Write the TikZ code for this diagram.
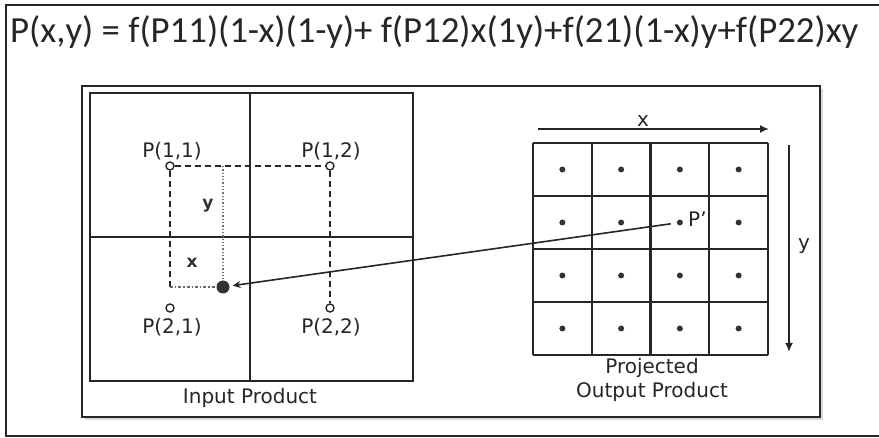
\documentclass[tikz,border=0pt]{standalone}
\usepackage{fontspec}
\setmainfont{DejaVu Sans}
\newfontfamily\formulafont{Carlito}
\usetikzlibrary{shadows, arrows.meta}

\begin{document}
\begin{tikzpicture}[x=1pt, y=-1pt,
    lbl/.style={font=\fontsize{20}{24}\selectfont, inner sep=0pt, text=black!85},
    boldlbl/.style={font=\bfseries\fontsize{17}{19}\selectfont, inner sep=0pt, text=black!80},
    gridline/.style={line width=2.1pt, black!85},
    guide/.style={line width=1.5pt, dash pattern=on 6pt off 4pt, black!85},
    corner/.style={circle, draw=black!85, line width=1.4pt, fill=white, inner sep=0pt, minimum size=8pt},
    cellpt/.style={circle, fill=black!80, inner sep=0pt, minimum size=6pt}]
    \useasboundingbox (0,0) rectangle (879,438);
    \draw[line width=1.5pt, black!85] (885,5) -- (6,5) -- (6,436) -- (885,436);

    \node[anchor=base west, inner sep=0pt, text=black!85, font=\formulafont\fontsize{36.8}{42}\selectfont] (formula) at (10,43) {P(x,y) = f(P11)(1-x)(1-y)+ f(P12)x(1y)+f(21)(1-x)y+f(P22)xy};

    \draw[line width=1.5pt, black!85, fill=white, drop shadow={shadow xshift=3pt, shadow yshift=-3pt, fill=black!30}] (82,86) rectangle (820,417);

    \draw[gridline] (90,93) rectangle (413,381);
    \draw[gridline] (250,93) -- (250,381);
    \draw[gridline] (90,237) -- (413,237);

    \node[corner] (p11) at (170,166) {};
    \node[corner] (p12) at (330,166) {};
    \node[corner] (p21) at (170,308) {};
    \node[corner] (p22) at (330,308) {};
    \node[circle, fill=black!80, minimum size=13pt, inner sep=0pt] (pt) at (223,287) {};
    \coordinate (foot) at (170,287);
    \coordinate (top) at (223,166);
    \draw[guide] (p11) -- (p12);
    \draw[guide] (p12) -- (p22);
    \draw[guide] (p11) -- (foot);
    \draw[line width=1.3pt, black!55, dotted] (top) -- (pt);
    \draw[line width=1.3pt, black!60, dash dot] (foot) -- (pt);

    \node[lbl] (l11) at (172,151) {P(1,1)};
    \node[lbl] (l12) at (331,151) {P(1,2)};
    \node[lbl] (l21) at (172,327) {P(2,1)};
    \node[lbl] (l22) at (331,327) {P(2,2)};
    \node[boldlbl] (ylab) at (208,206) {y};
    \node[boldlbl] (xlab) at (192,263) {x};
    \node[lbl] (inlab) at (250,398) {Input Product};

    \foreach \i in {0,...,4} {
        \draw[gridline] ({533+58.75*\i},143) -- ({533+58.75*\i},355);
        \draw[gridline] (533,{143+53*\i}) -- (768,{143+53*\i});
    }
    \foreach \r in {1,...,4}
        \foreach \c in {1,...,4}
            \node[cellpt] (c\r\c) at ({533+58.75*(\c-0.5)},{143+53*(\r-0.5)}) {};
    \node[lbl, anchor=west] (plab) at (688,219) {P'};

    \coordinate (xs) at (538,129);
    \coordinate (xe) at (769,129);
    \coordinate (ys) at (789,145);
    \coordinate (ye) at (789,352);
    \draw[line width=1.8pt, black!85, -{Latex[length=9pt, width=8pt]}] (xs) -- (xe);
    \draw[line width=1.8pt, black!85, -{Latex[length=9pt, width=8pt]}] (ys) -- (ye);
    \node[lbl] (axx) at (643,121) {x};
    \node[lbl] (axy) at (804,246) {y};

    \draw[line width=1.6pt, black!85, -{Stealth[length=8pt, width=7pt]}, shorten <=6pt, shorten >=3pt] (c23) -- (pt);

    \node[lbl, align=center] (outlab) at (652,380) {Projected\\Output Product};
\end{tikzpicture}
\end{document}
